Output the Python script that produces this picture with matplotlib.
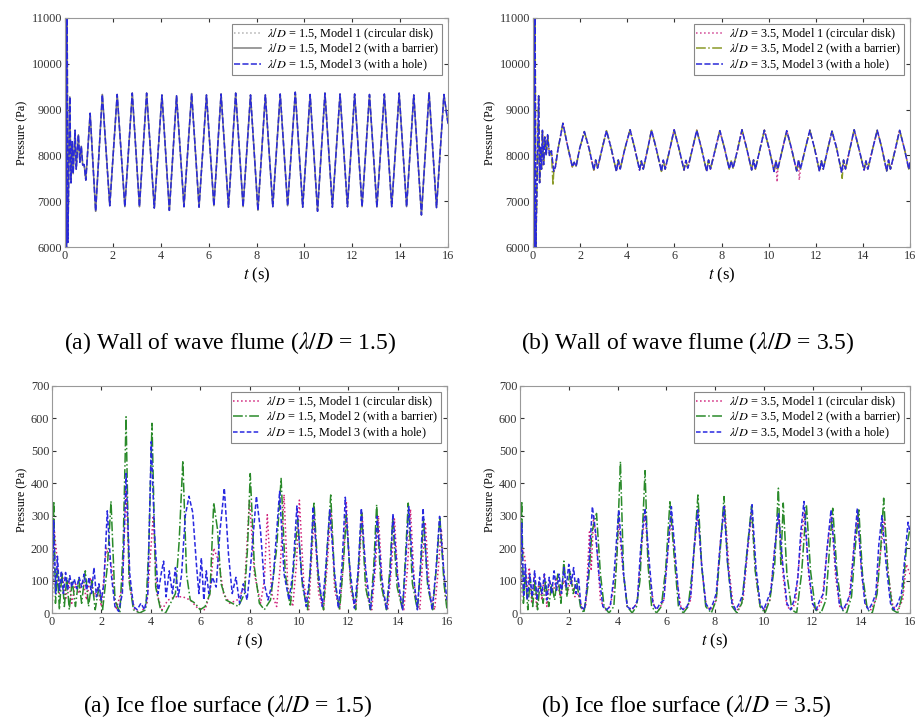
import numpy as np
import matplotlib
matplotlib.use("Agg")
import matplotlib.pyplot as plt

plt.rcParams['font.family'] = 'serif'
plt.rcParams['font.serif'] = ['Liberation Serif', 'DejaVu Serif']
plt.rcParams['mathtext.fontset'] = 'stix'

# ---- (a) wall of wave flume, lambda/D = 1.5 : shared time + model 3 values
tl_t = [0.00, 0.03, 0.06, 0.09, 0.12, 0.20, 0.25, 0.30, 0.34, 0.42, 0.47, 0.56, 0.62, 0.68, 0.74, 0.80, 0.84, 0.87, 1.05, 1.28,
        1.56, 1.87, 2.18, 2.50, 2.81, 3.11, 3.41, 3.73, 4.05, 4.36, 4.66, 4.97, 5.29, 5.60, 5.91, 6.22,
        6.52, 6.83, 7.13, 7.44, 7.75, 8.06, 8.37, 8.68, 8.99, 9.30, 9.62, 9.93, 10.24, 10.55, 10.86, 11.17,
        11.49, 11.80, 12.10, 12.41, 12.72, 13.03, 13.34, 13.65, 13.96, 14.27, 14.57, 14.89, 15.21, 15.52, 15.83, 16.00]
tl_p = [8000, 11000, 6000, 11000, 6100, 9280, 7400, 8300, 7600, 8550, 7700, 8450, 7850, 8200, 7790, 7800, 7600, 7460, 8920, 6780,
        9330, 6900, 9330, 6880, 9360, 6880, 9360, 6850, 9320, 6800, 9300, 6880, 9350, 6870, 9320, 6900,
        9340, 6870, 9360, 6880, 9320, 6800, 9320, 6880, 9340, 6900, 9380, 6870, 9330, 6780, 9360, 6870,
        9340, 6880, 9340, 6880, 9330, 6870, 9340, 6880, 9360, 6880, 9320, 6700, 9370, 6860, 9330, 8700]

# ---- (b) wall of wave flume, lambda/D = 3.5
tr_t = [0.00, 0.03, 0.06, 0.09, 0.12, 0.24, 0.28, 0.32, 0.36, 0.40, 0.45, 0.50, 0.56, 0.62, 0.70, 0.78, 0.88, 0.95, 1.05,
        1.27, 1.47, 1.67, 1.75, 1.83, 1.98,
        2.18, 2.38, 2.58, 2.66, 2.74, 2.92,
        3.12, 3.32, 3.54, 3.62, 3.70, 3.90,
        4.12, 4.32, 4.52, 4.60, 4.68, 4.85,
        5.03, 5.23, 5.45, 5.53, 5.61, 5.80,
        5.99, 6.19, 6.41, 6.49, 6.57, 6.76,
        6.95, 7.15, 7.37, 7.45, 7.53, 7.73,
        7.93, 8.13, 8.33, 8.41, 8.49, 8.68,
        8.87, 9.07, 9.28, 9.36, 9.44, 9.63,
        9.82, 10.02, 10.23, 10.31, 10.39, 10.58,
        10.77, 10.97, 11.19, 11.27, 11.35, 11.55,
        11.75, 11.95, 12.16, 12.24, 12.32, 12.50,
        12.69, 12.89, 13.10, 13.18, 13.26, 13.44,
        13.63, 13.83, 14.05, 14.13, 14.21, 14.41,
        14.61, 14.81, 15.01, 15.09, 15.17, 15.37,
        15.56, 15.76, 15.95, 16.00]
tr_p = [8000, 11000, 6000, 11000, 6000, 9300, 7400, 8200, 7700, 8550, 7800, 8400, 8000, 8450, 8000, 8100, 7650, 7750, 8100,
        8700, 8200, 7750, 7850, 7760, 8150,
        8520, 8150, 7680, 7900, 7720, 8120,
        8540, 8150, 7650, 7900, 7700, 8150,
        8560, 8150, 7680, 7880, 7700, 8100,
        8550, 8150, 7650, 7900, 7700, 8120,
        8560, 8160, 7680, 7890, 7720, 8130,
        8550, 8150, 7650, 7900, 7700, 8120,
        8540, 8150, 7700, 7880, 7720, 8120,
        8560, 8150, 7680, 7900, 7700, 8130,
        8550, 8150, 7650, 7880, 7700, 8120,
        8540, 8150, 7660, 7900, 7700, 8130,
        8550, 8150, 7650, 7880, 7700, 8120,
        8530, 8150, 7620, 7900, 7700, 8120,
        8560, 8150, 7680, 7880, 7700, 8130,
        8550, 8150, 7660, 7900, 7700, 8120,
        8550, 8150, 7700, 7850]
# spikes where models 1 / 2 leave the common curve
tr_m1_t = [10.36, 11.30]
tr_m1_p = [7420, 7460]
tr_m2_t = [0.85, 13.12]
tr_m2_p = [7350, 7500]

# ---- (a) ice floe surface, lambda/D = 1.5
bl_t1 = [0.00, 0.10, 0.20, 0.30, 0.42, 0.55, 0.68, 0.80, 0.95, 1.10,
         1.25, 1.40, 1.55, 1.70, 1.85, 2.00, 2.20, 2.40, 2.60, 2.85,
         3.00, 3.15, 3.35, 3.60, 3.85, 4.10, 4.25, 4.45, 4.70, 5.00,
         5.30, 5.60, 5.90, 6.20, 6.40, 6.55, 6.75, 6.95, 7.20, 7.50,
         7.80, 8.00, 8.20, 8.45, 8.60, 8.72, 8.90, 9.10, 9.25, 9.40,
         9.55, 9.75, 9.90, 10.02, 10.20, 10.40, 10.50, 10.62, 10.80, 11.00,
         11.15, 11.30, 11.45, 11.65, 11.80, 11.92, 12.10, 12.30, 12.45, 12.56,
         12.75, 12.95, 13.10, 13.22, 13.40, 13.60, 13.75, 13.87, 14.05, 14.25,
         14.40, 14.52, 14.70, 14.90, 15.00, 15.12, 15.30, 15.50, 15.65, 15.77,
         15.92, 16.00]
bl_p1 = [0, 250, 170, 60, 120, 40, 100, 30, 90, 60,
         100, 40, 110, 50, 80, 20, 200, 150, 10, 80,
         380, 80, 10, 0, 30, 300, 60, 10, 40, 50,
         50, 40, 15, 10, 60, 200, 160, 60, 30, 40,
         80, 350, 120, 30, 100, 303, 60, 20, 150, 365,
         80, 20, 150, 348, 90, 10, 150, 300, 60, 10,
         150, 320, 70, 10, 150, 345, 70, 10, 150, 310,
         60, 10, 140, 300, 60, 10, 140, 290, 60, 10,
         140, 320, 60, 10, 150, 280, 60, 10, 140, 260,
         60, 20]
bl_t2 = [0.00, 0.07, 0.14, 0.22, 0.30, 0.40, 0.50, 0.60, 0.70, 0.82,
         0.95, 1.08, 1.20, 1.35, 1.48, 1.62, 1.75, 1.90, 2.05, 2.25,
         2.39, 2.55, 2.75, 2.88, 3.00, 3.12, 3.30, 3.55, 3.80, 3.92,
         4.05, 4.20, 4.40, 4.60, 4.80, 5.00, 5.15, 5.30, 5.45, 5.60,
         5.80, 6.00, 6.20, 6.40, 6.55, 6.70, 6.85, 7.05, 7.30, 7.55,
         7.80, 7.92, 8.03, 8.20, 8.40, 8.60, 8.85, 9.10, 9.28, 9.45,
         9.65, 9.80, 9.95, 10.15, 10.35, 10.50, 10.61, 10.80, 11.00, 11.15,
         11.29, 11.45, 11.65, 11.80, 11.92, 12.10, 12.30, 12.42, 12.54, 12.70,
         12.90, 13.03, 13.15, 13.32, 13.55, 13.68, 13.80, 13.98, 14.20, 14.32,
         14.43, 14.60, 14.80, 14.95, 15.05, 15.22, 15.42, 15.58, 15.71, 15.88,
         16.00]
bl_p2 = [0, 345, 30, 130, 10, 125, 20, 110, 10, 100,
         20, 105, 30, 130, 20, 100, 10, 80, 10, 150,
         345, 40, 0, 200, 605, 100, 10, 0, 10, 200,
         585, 80, 10, 0, 30, 60, 220, 470, 120, 40,
         30, 10, 20, 60, 340, 260, 90, 40, 30, 20,
         60, 200, 430, 140, 30, 10, 40, 200, 415, 120,
         20, 150, 290, 80, 10, 180, 343, 90, 10, 200,
         364, 100, 10, 150, 300, 90, 10, 150, 310, 80,
         10, 140, 334, 90, 10, 130, 290, 80, 10, 180,
         339, 90, 10, 160, 290, 80, 10, 150, 297, 90,
         10]
bl_t3 = [0.00, 0.07, 0.15, 0.22, 0.30, 0.38, 0.46, 0.55, 0.63, 0.72,
         0.80, 0.90, 1.00, 1.10, 1.20, 1.30, 1.40, 1.50, 1.60, 1.70,
         1.80, 1.90, 2.00, 2.10, 2.24, 2.40, 2.55, 2.70, 2.85, 3.00,
         3.15, 3.30, 3.45, 3.60, 3.75, 3.88, 4.02, 4.15, 4.30, 4.42,
         4.52, 4.62, 4.75, 4.88, 5.00, 5.12, 5.25, 5.40, 5.55, 5.70,
         5.85, 5.95, 6.05, 6.15, 6.25, 6.35, 6.50, 6.65, 6.80, 6.98,
         7.15, 7.30, 7.45, 7.60, 7.75, 7.90, 8.05, 8.28, 8.45, 8.60,
         8.75, 8.95, 9.10, 9.22, 9.40, 9.60, 9.75, 9.92, 10.10, 10.30,
         10.45, 10.58, 10.75, 10.95, 11.10, 11.25, 11.45, 11.60, 11.75, 11.88,
         12.05, 12.25, 12.40, 12.53, 12.70, 12.90, 13.05, 13.17, 13.35, 13.55,
         13.70, 13.81, 14.00, 14.20, 14.32, 14.45, 14.62, 14.80, 14.93, 15.03,
         15.20, 15.40, 15.55, 15.70, 15.88, 16.00]
bl_p3 = [30, 285, 60, 175, 70, 130, 60, 125, 70, 115,
         80, 105, 75, 110, 80, 120, 70, 110, 60, 140,
         50, 90, 40, 90, 315, 120, 20, 5, 60, 430,
         120, 20, 10, 30, 10, 60, 528, 250, 60, 120,
         160, 50, 130, 60, 140, 50, 120, 300, 360, 310,
         150, 60, 170, 40, 130, 60, 110, 80, 250, 385,
         180, 60, 110, 30, 90, 40, 150, 360, 250, 90,
         40, 100, 250, 375, 120, 40, 120, 330, 120, 20,
         120, 328, 150, 20, 150, 318, 120, 15, 150, 357,
         150, 15, 130, 323, 140, 10, 120, 298, 110, 10,
         120, 306, 110, 10, 150, 328, 130, 10, 150, 323,
         110, 10, 130, 298, 120, 40]

# ---- (b) ice floe surface, lambda/D = 3.5
br_t1 = [0.00, 0.10, 0.20, 0.28, 0.38, 0.48, 0.58, 0.68, 0.78, 0.90,
         1.00, 1.10, 1.22, 1.35, 1.50, 1.65, 1.80, 1.95, 2.10, 2.25,
         2.40, 2.55, 2.70, 2.85, 2.92, 3.02, 3.15, 3.30, 3.50, 3.70,
         3.90, 4.05, 4.20, 4.40, 4.60, 4.80, 4.98, 5.13, 5.30, 5.50,
         5.70, 5.90, 6.08, 6.21, 6.40, 6.60, 6.80, 7.00, 7.15, 7.30,
         7.48, 7.65, 7.85, 8.05, 8.22, 8.40, 8.58, 8.75, 8.95, 9.15,
         9.35, 9.50, 9.68, 9.85, 10.05, 10.25, 10.45, 10.62, 10.80, 10.95,
         11.12, 11.30, 11.50, 11.66, 11.85, 12.02, 12.20, 12.40, 12.60, 12.78,
         12.95, 13.12, 13.30, 13.50, 13.68, 13.85, 14.03, 14.20, 14.40, 14.60,
         14.78, 14.95, 15.12, 15.30, 15.50, 15.70, 15.85, 16.00]
br_p1 = [0, 200, 170, 60, 140, 30, 110, 20, 100, 40,
         120, 20, 100, 60, 110, 50, 100, 60, 110, 50,
         60, 10, 20, 250, 130, 300, 200, 40, 10, 20,
         100, 280, 150, 20, 10, 30, 200, 310, 120, 20,
         10, 40, 200, 300, 120, 20, 10, 40, 200, 310,
         120, 20, 10, 40, 220, 330, 130, 20, 10, 40,
         200, 310, 110, 20, 10, 40, 200, 300, 110, 20,
         10, 30, 200, 310, 110, 20, 10, 40, 200, 300,
         110, 20, 10, 40, 190, 300, 110, 20, 10, 40,
         180, 290, 110, 20, 10, 40, 150, 120]
br_t2 = [0.00, 0.07, 0.14, 0.22, 0.32, 0.42, 0.52, 0.62, 0.72, 0.82,
         0.95, 1.05, 1.18, 1.30, 1.42, 1.55, 1.68, 1.80, 1.92, 2.05,
         2.18, 2.32, 2.48, 2.62, 2.80, 2.95, 3.14, 3.30, 3.45, 3.65,
         3.85, 3.98, 4.12, 4.25, 4.40, 4.60, 4.78, 4.92, 5.05, 5.13,
         5.25, 5.40, 5.60, 5.80, 5.98, 6.15, 6.32, 6.50, 6.70, 6.90,
         7.10, 7.30, 7.45, 7.62, 7.85, 8.05, 8.22, 8.37, 8.52, 8.70,
         8.90, 9.10, 9.30, 9.50, 9.65, 9.85, 10.05, 10.25, 10.45, 10.60,
         10.70, 10.80, 10.95, 11.15, 11.35, 11.55, 11.75, 11.92, 12.12, 12.35,
         12.55, 12.70, 12.83, 13.00, 13.20, 13.40, 13.60, 13.75, 13.90, 14.05,
         14.25, 14.45, 14.65, 14.80, 14.92, 15.08, 15.28, 15.50, 15.70, 15.85,
         16.00]
br_p2 = [0, 345, 30, 120, 10, 110, 20, 100, 10, 90,
         30, 100, 20, 90, 40, 120, 30, 160, 50, 130,
         60, 100, 20, 0, 90, 250, 307, 120, 20, 0,
         20, 180, 467, 120, 20, 0, 20, 100, 300, 439,
         150, 20, 0, 20, 140, 343, 180, 20, 0, 20,
         150, 364, 150, 20, 0, 40, 200, 359, 150, 20,
         0, 30, 180, 330, 130, 20, 0, 40, 150, 385,
         150, 339, 120, 10, 0, 120, 334, 130, 10, 0,
         40, 200, 323, 130, 10, 0, 50, 200, 318, 120,
         10, 0, 60, 200, 354, 140, 10, 0, 60, 200,
         260]
br_t3 = [0.00, 0.07, 0.15, 0.22, 0.30, 0.40, 0.50, 0.60, 0.70, 0.80,
         0.90, 1.00, 1.10, 1.20, 1.30, 1.40, 1.50, 1.60, 1.70, 1.80,
         1.90, 2.00, 2.10, 2.20, 2.30, 2.40, 2.50, 2.65, 2.80, 2.97,
         3.10, 3.25, 3.40, 3.55, 3.70, 3.85, 4.05, 4.25, 4.40, 4.55,
         4.70, 4.82, 4.95, 5.13, 5.30, 5.45, 5.60, 5.75, 5.90, 6.05,
         6.21, 6.40, 6.55, 6.70, 6.85, 7.00, 7.12, 7.29, 7.45, 7.62,
         7.78, 7.92, 8.05, 8.20, 8.37, 8.52, 8.70, 8.85, 9.00, 9.15,
         9.32, 9.52, 9.68, 9.85, 10.00, 10.15, 10.30, 10.45, 10.60, 10.78,
         10.95, 11.10, 11.25, 11.40, 11.52, 11.65, 11.82, 12.00, 12.15, 12.30,
         12.45, 12.60, 12.76, 12.95, 13.10, 13.25, 13.40, 13.55, 13.70, 13.84,
         14.00, 14.15, 14.30, 14.45, 14.60, 14.72, 14.85, 15.02, 15.20, 15.35,
         15.50, 15.65, 15.80, 15.92, 16.00]
br_p3 = [20, 277, 50, 150, 40, 120, 50, 130, 40, 110,
         60, 120, 40, 110, 60, 130, 70, 120, 60, 140,
         80, 150, 90, 140, 60, 110, 20, 10, 120, 328,
         250, 110, 20, 10, 20, 110, 318, 120, 20, 10,
         20, 40, 200, 323, 160, 30, 10, 30, 40, 180,
         328, 150, 20, 10, 20, 50, 180, 318, 150, 30,
         10, 30, 60, 200, 328, 150, 30, 10, 30, 60,
         190, 334, 140, 30, 10, 40, 70, 200, 308, 150,
         30, 10, 40, 110, 250, 344, 150, 30, 10, 40,
         60, 200, 318, 140, 30, 10, 30, 60, 200, 323,
         140, 30, 10, 30, 60, 210, 300, 150, 30, 10,
         30, 60, 180, 280, 250]

captions = ["(a) Wall of wave flume ($\\lambda/D$ = 1.5)", "(b) Wall of wave flume ($\\lambda/D$ = 3.5)",
            "(a) Ice floe surface ($\\lambda/D$ = 1.5)", "(b) Ice floe surface ($\\lambda/D$ = 3.5)"]
model_names = ["Model 1 (circular disk)", "Model 2 (with a barrier)", "Model 3 (with a hole)"]


def merged(t, p, et, ep):
    tt = np.concatenate([t, et])
    pp = np.concatenate([p, ep])
    o = np.argsort(tt, kind="stable")
    return tt[o], pp[o]


def style_axes(ax, ylim, yticks):
    ax.set_xlim(0, 16)
    ax.set_ylim(*ylim)
    ax.set_xticks(range(0, 17, 2))
    ax.set_yticks(yticks)
    ax.tick_params(direction='in', labelsize=8.8, length=3, top=True, right=True, pad=2, colors='#333333')
    for s in ax.spines.values():
        s.set_color('#999999')
        s.set_linewidth(0.8)
    ax.set_xlabel('$t$ (s)', fontsize=12, labelpad=3)
    ax.set_ylabel('Pressure (Pa)', fontsize=8.7, labelpad=2)


def add_legend(ax, lam):
    leg = ax.legend([f"$\\lambda/D$ = {lam}, {m}" for m in model_names], loc='upper right', fontsize=8.8,
                    frameon=True, fancybox=False, edgecolor='#888888', framealpha=1, handlelength=2.2,
                    borderaxespad=0.5, borderpad=0.2, labelspacing=0.0, handletextpad=0.5)
    leg.get_frame().set_linewidth(0.8)


fig = plt.figure(figsize=(9.17, 7.2), dpi=100)
W, H = 917.0, 720.0
ax_tl = fig.add_axes([65 / W, 1 - 247 / H, 383 / W, 229 / H])
ax_tr = fig.add_axes([533 / W, 1 - 247 / H, 377 / W, 229 / H])
ax_bl = fig.add_axes([52 / W, 1 - 613 / H, 395 / W, 227 / H])
ax_br = fig.add_axes([520 / W, 1 - 613 / H, 390 / W, 227 / H])

# top left: all three overlap
ax_tl.plot(tl_t, tl_p, ':', color='#b0b0b0', lw=1.1)
ax_tl.plot(tl_t, tl_p, '-', color='#808080', lw=1.1)
ax_tl.plot(tl_t, tl_p, '--', color='#2a2ad8', lw=1.1, dashes=(4, 1.5))
style_axes(ax_tl, (6000, 11000), range(6000, 11001, 1000))
add_legend(ax_tl, 1.5)

# top right
t1, p1 = merged(tr_t, tr_p, tr_m1_t, tr_m1_p)
t2, p2 = merged(tr_t, tr_p, tr_m2_t, tr_m2_p)
ax_tr.plot(t1, p1, ':', color='#d04090', lw=1.1)
ax_tr.plot(t2, p2, '-.', color='#8a9a28', lw=1.1)
ax_tr.plot(tr_t, tr_p, '--', color='#2a2ad8', lw=1.1, dashes=(4, 1.5))
style_axes(ax_tr, (6000, 11000), range(6000, 11001, 1000))
add_legend(ax_tr, 3.5)

# bottom left
ax_bl.plot(bl_t1, bl_p1, ':', color='#d0207a', lw=1.1)
ax_bl.plot(bl_t2, bl_p2, '-.', color='#2a8a2a', lw=1.1)
ax_bl.plot(bl_t3, bl_p3, '--', color='#2828e0', lw=1.1, dashes=(3, 1.5))
style_axes(ax_bl, (0, 700), range(0, 701, 100))
add_legend(ax_bl, 1.5)

# bottom right
ax_br.plot(br_t1, br_p1, ':', color='#d0207a', lw=1.1)
ax_br.plot(br_t2, br_p2, '-.', color='#2a8a2a', lw=1.1)
ax_br.plot(br_t3, br_p3, '--', color='#2828e0', lw=1.1, dashes=(3, 1.5))
style_axes(ax_br, (0, 700), range(0, 701, 100))
add_legend(ax_br, 3.5)

cap_pos = [(230, 343), (688, 343), (228, 706), (686, 706)]
for (cx, cy), c in zip(cap_pos, captions):
    fig.text(cx / W, 1 - cy / H, c, ha='center', va='center', fontsize=17)

fig.savefig('out.png', dpi=100)
